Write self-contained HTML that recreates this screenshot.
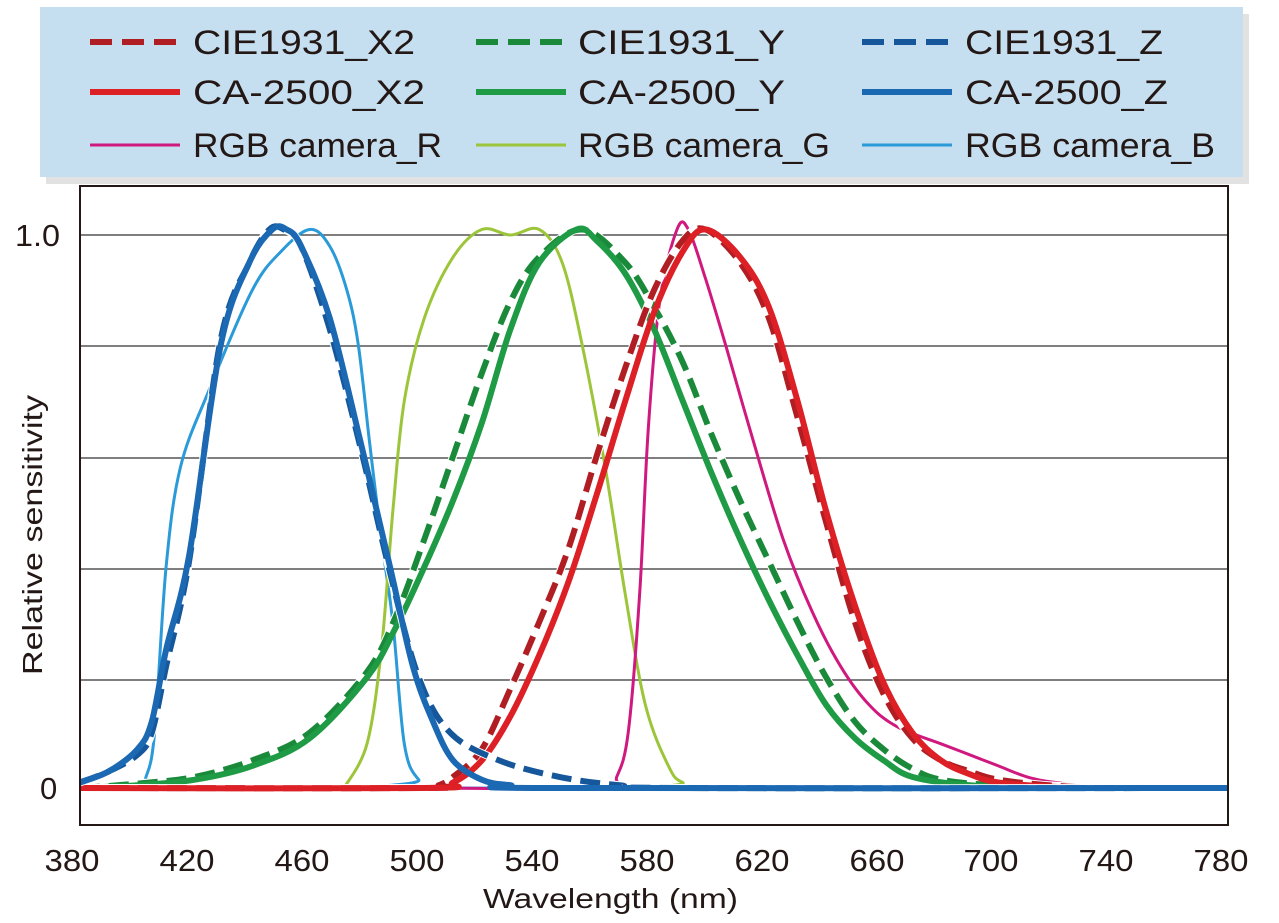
<!DOCTYPE html>
<html><head><meta charset="utf-8"><style>
body{margin:0;background:#fff;width:1279px;height:923px;overflow:hidden}
svg{display:block;font-family:"Liberation Sans",Arial,sans-serif}
</style></head><body>
<svg id="s" width="1279" height="923" viewBox="0 0 1279 923">
<rect x="46" y="14" width="1203" height="170" fill="#e2e2e2"/>
<rect x="40" y="7" width="1203" height="170" fill="#c5dff0"/>
<g stroke-width="6" fill="none">
<line x1="90" y1="42" x2="180" y2="42" stroke="#b01e23" stroke-dasharray="22,10"/>
<line x1="90" y1="92" x2="180" y2="92" stroke="#dd1f26"/>
<line x1="90" y1="145" x2="180" y2="145" stroke="#d0197f" stroke-width="3"/>
<line x1="476" y1="42" x2="566" y2="42" stroke="#1a8a3a" stroke-dasharray="22,10"/>
<line x1="476" y1="92" x2="566" y2="92" stroke="#1f9a45"/>
<line x1="476" y1="145" x2="566" y2="145" stroke="#9cc53a" stroke-width="3"/>
<line x1="862" y1="42" x2="952" y2="42" stroke="#15579a" stroke-dasharray="22,10"/>
<line x1="862" y1="92" x2="952" y2="92" stroke="#1b68b3"/>
<line x1="862" y1="145" x2="952" y2="145" stroke="#2a9ad8" stroke-width="3"/>
</g>
<g font-size="34" fill="#231815" lengthAdjust="spacingAndGlyphs">
<text x="193" y="54" textLength="222" lengthAdjust="spacingAndGlyphs">CIE1931_X2</text>
<text x="193" y="104" textLength="232" lengthAdjust="spacingAndGlyphs">CA-2500_X2</text>
<text x="193" y="157" textLength="249" lengthAdjust="spacingAndGlyphs">RGB camera_R</text>
<text x="578" y="54" textLength="207" lengthAdjust="spacingAndGlyphs">CIE1931_Y</text>
<text x="578" y="104" textLength="207" lengthAdjust="spacingAndGlyphs">CA-2500_Y</text>
<text x="578" y="157" textLength="252" lengthAdjust="spacingAndGlyphs">RGB camera_G</text>
<text x="965" y="54" textLength="198" lengthAdjust="spacingAndGlyphs">CIE1931_Z</text>
<text x="965" y="104" textLength="203" lengthAdjust="spacingAndGlyphs">CA-2500_Z</text>
<text x="965" y="157" textLength="250" lengthAdjust="spacingAndGlyphs">RGB camera_B</text>
</g>
<g stroke="#333" stroke-width="1.2">
<line x1="80" y1="235" x2="1228" y2="235"/><line x1="80" y1="346" x2="1228" y2="346"/>
<line x1="80" y1="458" x2="1228" y2="458"/><line x1="80" y1="569" x2="1228" y2="569"/>
<line x1="80" y1="680" x2="1228" y2="680"/><line x1="80" y1="788" x2="1228" y2="788"/>
</g>
<g id="curves" fill="none" stroke-linejoin="round"></g>
<rect x="80" y="186" width="1148" height="639" fill="none" stroke="#231815" stroke-width="2"/>
<g font-size="31" fill="#231815" text-anchor="middle">
<text x="72" y="871" textLength="55" lengthAdjust="spacingAndGlyphs">380</text>
<text x="187" y="871" textLength="55" lengthAdjust="spacingAndGlyphs">420</text>
<text x="302" y="871" textLength="55" lengthAdjust="spacingAndGlyphs">460</text>
<text x="417" y="871" textLength="55" lengthAdjust="spacingAndGlyphs">500</text>
<text x="532" y="871" textLength="55" lengthAdjust="spacingAndGlyphs">540</text>
<text x="647" y="871" textLength="55" lengthAdjust="spacingAndGlyphs">580</text>
<text x="762" y="871" textLength="55" lengthAdjust="spacingAndGlyphs">620</text>
<text x="877" y="871" textLength="55" lengthAdjust="spacingAndGlyphs">660</text>
<text x="991" y="871" textLength="55" lengthAdjust="spacingAndGlyphs">700</text>
<text x="1106" y="871" textLength="55" lengthAdjust="spacingAndGlyphs">740</text>
<text x="1221" y="871" textLength="55" lengthAdjust="spacingAndGlyphs">780</text>
</g>
<text x="483" y="908" font-size="28" fill="#231815" textLength="255" lengthAdjust="spacingAndGlyphs">Wavelength (nm)</text>
<g font-size="31" fill="#231815">
<text x="15" y="246" textLength="45" lengthAdjust="spacingAndGlyphs">1.0</text><text x="40" y="799">0</text>
</g>
<text transform="translate(42,675) rotate(-90)" font-size="28" fill="#231815" textLength="280" lengthAdjust="spacingAndGlyphs">Relative sensitivity</text>
</svg>
<script>
function X(n){return 80+(n-380)*2.87}
function Y(v){return 788-v*553}
function path(d){
 var p=d.map(function(a){return [X(a[0]),Y(a[1])]});
 var s="M"+p[0][0].toFixed(1)+","+p[0][1].toFixed(1);
 for(var i=0;i<p.length-1;i++){
  var p0=p[i-1]||p[i],p1=p[i],p2=p[i+1],p3=p[i+2]||p2;
  var c1=[p1[0]+(p2[0]-p0[0])/6,p1[1]+(p2[1]-p0[1])/6];
  var c2=[p2[0]-(p3[0]-p1[0])/6,p2[1]-(p3[1]-p1[1])/6];
  s+="C"+c1[0].toFixed(1)+","+c1[1].toFixed(1)+" "+c2[0].toFixed(1)+","+c2[1].toFixed(1)+" "+p2[0].toFixed(1)+","+p2[1].toFixed(1);
 }
 return s;
}
var S=[
["#2a9ad8",3,"",[[380,0],[400,0],[403,0.02],[406,0.1],[410,0.4],[415,0.58],[425,0.72],[440,0.9],[450,0.97],[460,1.01],[467,0.98],[473,0.9],[477,0.8],[481,0.62],[485,0.45],[489,0.3],[493,0.08],[498,0.015],[505,0],[780,0]]],
["#9cc53a",3,"",[[472,0],[480,0.08],[485,0.25],[489,0.5],[493,0.7],[500,0.85],[510,0.96],[520,1.01],[530,1.0],[540,1.01],[548,0.95],[555,0.8],[563,0.58],[570,0.35],[577,0.15],[585,0.04],[590,0.01],[600,0],[780,0]]],
["#d0197f",3,"",[[500,0],[563,0],[567,0.02],[571,0.1],[575,0.35],[578,0.65],[582,0.88],[588,1.01],[592,1.01],[598,0.92],[605,0.8],[615,0.62],[625,0.45],[635,0.32],[645,0.22],[655,0.15],[665,0.11],[680,0.08],[690,0.06],[700,0.04],[710,0.02],[720,0.01],[740,0],[780,0]]],
["#1a8a3a",6,"20,9",[[380,0],[400,0.008],[420,0.02],[440,0.05],[460,0.1],[480,0.21],[490,0.31],[500,0.45],[510,0.6],[520,0.75],[530,0.88],[540,0.96],[555,1.01],[570,0.95],[580,0.87],[590,0.77],[600,0.64],[610,0.52],[620,0.41],[630,0.3],[640,0.2],[650,0.12],[660,0.07],[670,0.035],[680,0.015],[700,0.005],[740,0],[780,0]]],
["#1f9a45",6,"",[[380,0],[400,0.005],[420,0.015],[440,0.04],[460,0.09],[480,0.2],[490,0.29],[500,0.4],[510,0.52],[520,0.66],[530,0.83],[540,0.95],[553,1.01],[560,0.99],[570,0.93],[580,0.83],[590,0.7],[600,0.57],[610,0.45],[620,0.34],[630,0.24],[640,0.15],[650,0.09],[660,0.05],[670,0.02],[690,0.005],[720,0],[780,0]]],
["#b01e23",6,"20,9",[[380,0],[500,0],[505,0.005],[510,0.02],[520,0.07],[530,0.18],[540,0.3],[550,0.43],[560,0.6],[570,0.76],[580,0.9],[590,0.99],[598,1.01],[610,0.95],[620,0.85],[630,0.67],[640,0.48],[650,0.3],[660,0.17],[670,0.09],[680,0.05],[690,0.03],[700,0.015],[720,0.004],[740,0],[780,0]]],
["#dd1f26",6,"",[[380,0],[500,0],[510,0.01],[520,0.05],[530,0.13],[540,0.24],[550,0.37],[560,0.53],[570,0.7],[580,0.86],[590,0.97],[598,1.01],[610,0.96],[620,0.87],[630,0.7],[640,0.5],[650,0.33],[660,0.19],[670,0.1],[680,0.05],[690,0.025],[700,0.01],[720,0.002],[740,0],[780,0]]],
["#15579a",6,"20,9",[[380,0.01],[390,0.03],[400,0.06],[405,0.1],[410,0.22],[418,0.41],[429,0.81],[439,0.95],[446,1.01],[451,1.01],[457,0.98],[467,0.83],[478,0.61],[488,0.39],[498,0.2],[509,0.1],[526,0.05],[547,0.02],[568,0.005],[590,0],[780,0]]],
["#1b68b3",6,"",[[380,0.01],[390,0.03],[400,0.07],[405,0.12],[410,0.25],[418,0.42],[429,0.8],[439,0.95],[447,1.01],[452,1.01],[457,0.98],[467,0.85],[478,0.62],[488,0.4],[496,0.22],[503,0.12],[510,0.05],[520,0.015],[530,0.005],[545,0],[780,0]]]
];
var g=document.getElementById("curves"),h="";
S.forEach(function(c){
 if(c[2]) h+='<path d="'+path(c[3])+'" stroke="#fff" stroke-width="'+(c[1]+2)+'"/>';
 h+='<path d="'+path(c[3])+'" stroke="'+c[0]+'" stroke-width="'+c[1]+'"'+(c[2]?' stroke-dasharray="'+c[2]+'"':'')+'/>';
});
g.innerHTML=h;
</script>
</body></html>
